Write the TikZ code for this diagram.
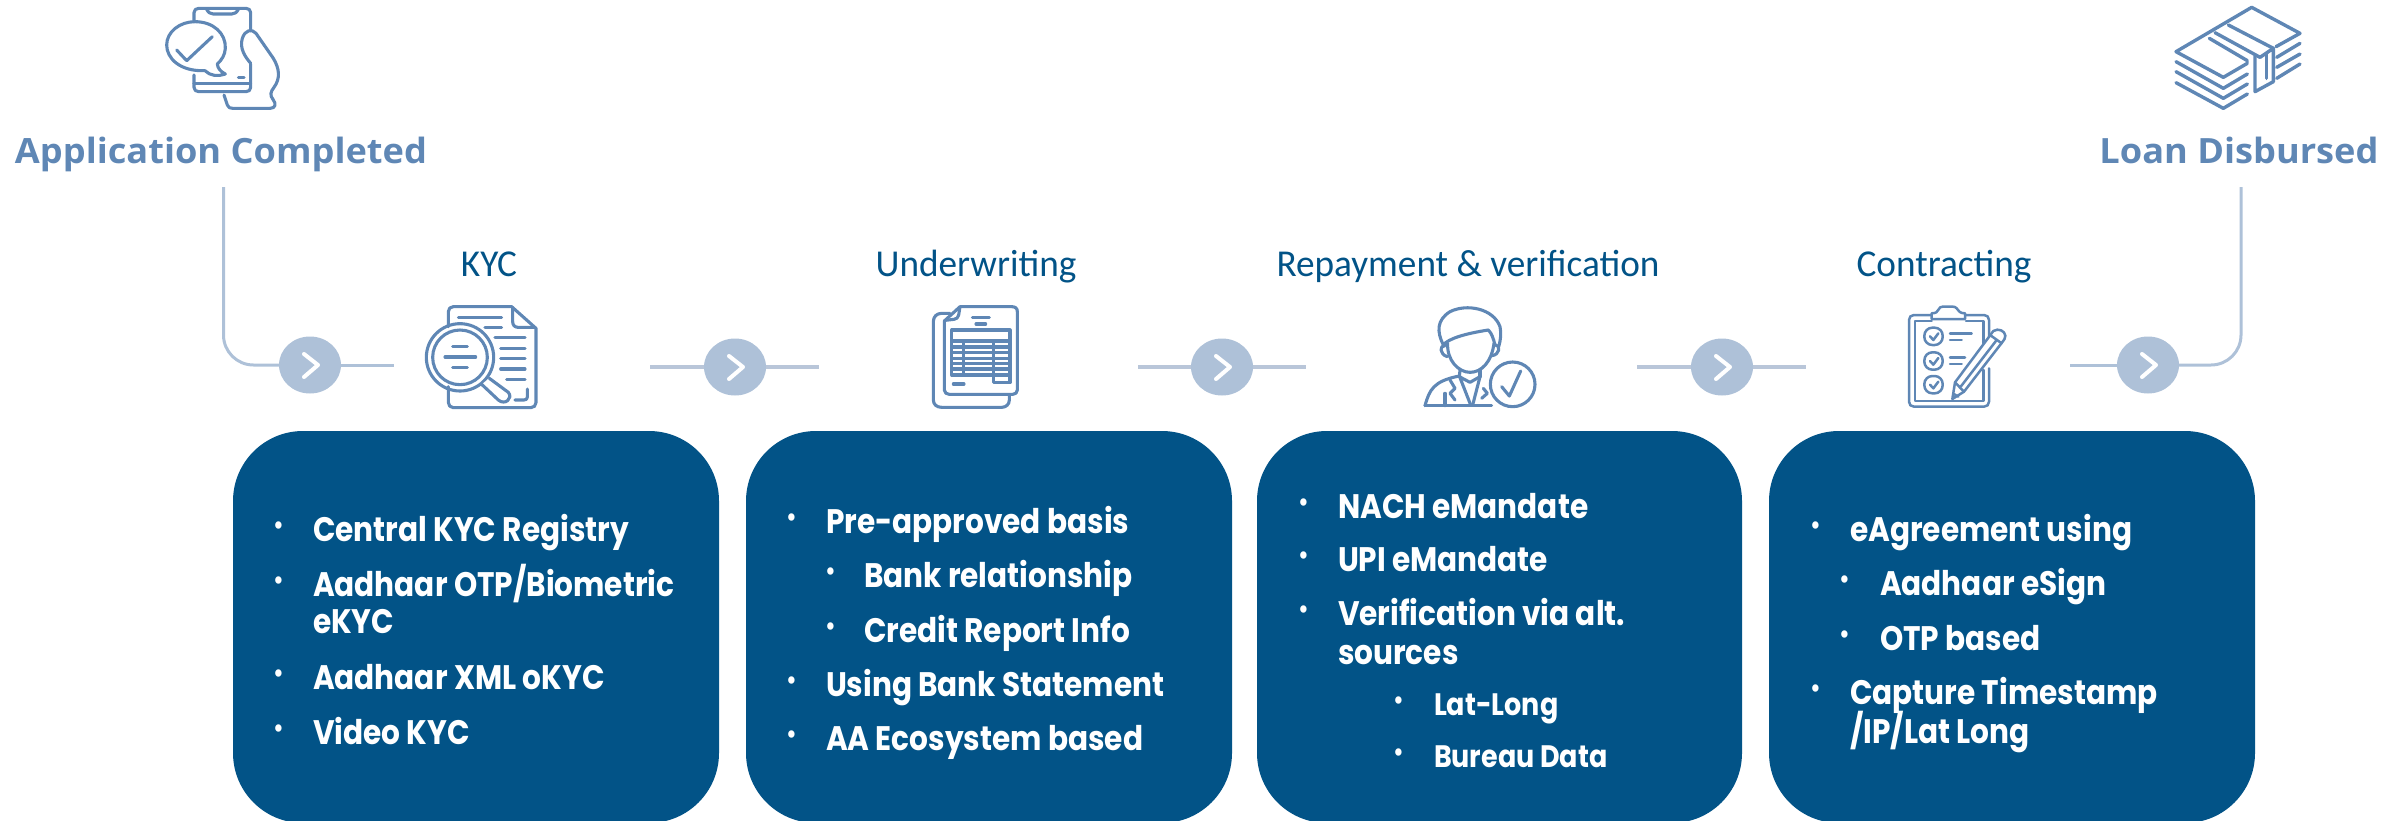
\documentclass[tikz,border=0pt]{standalone}
\usepackage{fontspec}
\usetikzlibrary{shapes.geometric}
\setmainfont{Carlito}
\newfontfamily\bodyfont[FakeStretch=0.87]{Poppins}
\newfontfamily\headfont[FakeStretch=1.04]{Open Sans}
\newfontfamily\labelfont[FakeStretch=0.98]{Carlito}
\definecolor{boxblue}{HTML}{025387}
\definecolor{iconblue}{HTML}{5F87B5}
\definecolor{linkblue}{HTML}{AEC1D8}
\definecolor{linkgrey}{HTML}{B9C6D9}
\tikzset{
  bx/.style={fill=boxblue,rounded corners=35pt,anchor=north west,inner sep=0pt,outer sep=0pt,minimum height=196pt},
  bt/.style={anchor=base west,inner sep=0pt,outer sep=0pt,text=white,font=\bodyfont\bfseries\fontsize{17}{18}\selectfont},
  st/.style={bt,font=\bodyfont\bfseries\fontsize{15.5}{18}\selectfont},
  bl/.style={anchor=center,inner sep=0pt,outer sep=0pt,text=white,font=\bodyfont\fontsize{15}{16}\selectfont},
  lab/.style={anchor=base,inner sep=0pt,text=boxblue,font=\labelfont\fontsize{19}{22}\selectfont},
  hd/.style={anchor=base,inner sep=0pt,text=iconblue,font=\headfont\bfseries\fontsize{17.4}{20}\selectfont},
  dot/.style={ellipse,fill=linkblue,inner sep=0pt,outer sep=0pt,minimum width=31pt,minimum height=28.5pt},
  thin link/.style={draw=linkblue,line width=1.5pt},
  thick link/.style={draw=linkgrey,line width=2.2pt},
  chev/.style={draw=white,line width=2pt,line cap=round,line join=round},
  ic/.style={draw=iconblue,line width=1.55pt,line cap=round,line join=round},
  icn/.style={x=0.16667pt,y=-0.16667pt},
}
\newcommand{\chevron}[1]{\draw[chev] ([shift={(-6,-11)}]#1.center) -- ([shift={(8,0)}]#1.center) -- ([shift={(-6,12)}]#1.center);}
\begin{document}
\begin{tikzpicture}[x=0.5pt,y=-0.5pt]
\useasboundingbox (0,0) rectangle (2405,820);
% boxes
\node[bx,minimum width=243pt] (b1) at (233,431) {};
\node[bx,minimum width=243pt] (b2) at (746,431) {};
\node[bx,minimum width=242.5pt] (b3) at (1257,431) {};
\node[bx,minimum width=243pt] (b4) at (1769,431) {};
% box 1
\node[bt] (k1) at (313,541) {Central KYC Registry};
\node[bl] (k1b) at (279,529) {•};
\node[bt] (k2) at (313,596) {Aadhaar OTP/Biometric};
\node[bl] (k2b) at (279,584) {•};
\node[bt] (k2c) at (313,633) {eKYC};
\node[bt] (k3) at (313,689) {Aadhaar XML oKYC};
\node[bl] (k3b) at (279,677) {•};
\node[bt] (k4) at (313,744) {Video KYC};
\node[bl] (k4b) at (279,732) {•};
% box 2
\node[bt] (u1) at (826,533) {Pre-approved basis};
\node[bl] (u1b) at (792,521) {•};
\node[bt] (u2) at (864,587) {Bank relationship};
\node[bl] (u2b) at (831,575) {•};
\node[bt] (u3) at (864,642) {Credit Report Info};
\node[bl] (u3b) at (831,630) {•};
\node[bt] (u4) at (826,696) {Using Bank Statement};
\node[bl] (u4b) at (792,684) {•};
\node[bt] (u5) at (826,750) {AA Ecosystem based};
\node[bl] (u5b) at (792,738) {•};
% box 3
\node[bt] (r1) at (1338,518) {NACH eMandate};
\node[bl] (r1b) at (1304,506) {•};
\node[bt] (r2) at (1338,571) {UPI eMandate};
\node[bl] (r2b) at (1304,559) {•};
\node[bt] (r3) at (1338,625) {Verification via alt.};
\node[bl] (r3b) at (1304,613) {•};
\node[bt] (r3c) at (1338,664) {sources};
\node[st] (r4) at (1434,715) {Lat-Long};
\node[bl] (r4b) at (1399,704) {•};
\node[st] (r5) at (1434,767) {Bureau Data};
\node[bl] (r5b) at (1399,756) {•};
% box 4
\node[bt] (c1t) at (1850,541) {eAgreement using};
\node[bl] (c1b) at (1816,529) {•};
\node[bt] (c2t) at (1880,595) {Aadhaar eSign};
\node[bl] (c2b) at (1845,583) {•};
\node[bt] (c3t) at (1880,650) {OTP based};
\node[bl] (c3b) at (1845,638) {•};
\node[bt] (c4t) at (1850,704) {Capture Timestamp};
\node[bl] (c4b) at (1816,692) {•};
\node[bt] (c4c) at (1850,743) {/IP/Lat Long};
% labels
\node[lab] (l1) at (489,276) {KYC};
\node[lab] (l2) at (976,276) {Underwriting};
\node[lab] (l3) at (1468,276) {Repayment \& verification};
\node[lab] (l4) at (1944,276) {Contracting};
\node[hd] (appl) at (221,163) {Application Completed};
\node[hd] (loan) at (2239,163) {Loan Disbursed};
% connectors
\coordinate (a0) at (223.5,187);
\coordinate (z0) at (2241,187);
\coordinate (e1) at (394,365);
\coordinate (s2) at (650,367);
\coordinate (e2) at (819,367);
\coordinate (s3) at (1138,367);
\coordinate (e3) at (1306,367);
\coordinate (s4) at (1637,367);
\coordinate (e4) at (1806,367);
\coordinate (s5) at (2070,365);
\node[dot] (c1) at (310,365) {};
\node[dot] (c2) at (735,367) {};
\node[dot] (c3) at (1222,367) {};
\node[dot] (c4) at (1722,367) {};
\node[dot] (c5) at (2148,365) {};
\draw[thin link,rounded corners=15pt] (a0) |- (c1);
\draw[thin link] (c1) -- (e1);
\draw[thick link] (s2) -- (c2);
\draw[thick link] (c2) -- (e2);
\draw[thick link] (s3) -- (c3);
\draw[thick link] (c3) -- (e3);
\draw[thick link] (s4) -- (c4);
\draw[thick link] (c4) -- (e4);
\draw[thin link] (s5) -- (c5);
\draw[thin link,rounded corners=15pt] (z0) |- (c5);
\chevron{c1}\chevron{c2}\chevron{c3}\chevron{c4}\chevron{c5}
% phone icon
\begin{scope}[shift={(150,0)},icn,ic]
\draw (132,65) -- (132,38) .. controls (132,30) and (138,25) .. (146,25) -- (288,25) .. controls (296,25) and (302,30) .. (302,38) -- (302,92);
\draw (170,28) .. controls (175,38) and (182,42) .. (190,42) -- (245,42) .. controls (253,42) and (260,38) .. (265,28);
\draw (132,225) -- (132,262) .. controls (132,270) and (138,275) .. (146,275) -- (288,275) .. controls (296,275) and (302,270) .. (302,262) -- (302,192);
\draw (132,250) -- (302,250);
\draw (265,232) -- (282,232);
\draw (165,212) .. controls (90,215) and (50,175) .. (50,135) .. controls (50,95) and (90,65) .. (135,65) .. controls (190,65) and (228,100) .. (226,145) .. controls (225,165) and (215,180) .. (202,192) .. controls (203,205) and (212,215) .. (226,222) .. controls (205,230) and (180,228) .. (165,212);
\draw (80,150) -- (110,182) -- (187,110);
\draw (222,285) -- (232,315) .. controls (235,323) and (240,325) .. (248,325) -- (360,325) .. controls (378,325) and (378,310) .. (370,300) .. controls (358,285) and (362,275) .. (372,262) .. controls (392,235) and (388,205) .. (370,175) -- (318,100) .. controls (305,85) and (285,90) .. (277,115) .. controls (268,145) and (285,170) .. (302,190);
\end{scope}
% KYC icon
\begin{scope}[shift={(410,295)},icn,ic]
\draw (115,95) -- (115,50) .. controls (115,41) and (121,35) .. (130,35) -- (305,35) -- (378,100) -- (378,323) .. controls (378,332) and (371,338) .. (362,338) -- (130,338) .. controls (121,338) and (115,331) .. (115,322) -- (115,275);
\draw (308,38) -- (308,80) .. controls (308,90) and (314,97) .. (324,97) -- (375,97);
\draw (145,68) -- (275,68);
\draw (225,98) -- (275,98);
\draw (255,128) -- (345,128);
\draw (272,160) -- (345,160);
\draw (272,191) -- (345,191);
\draw (272,222) -- (345,222);
\draw (290,253) -- (345,253);
\draw (315,315) -- (342,315) .. controls (348,315) and (352,312) .. (352,306) -- (352,282);
\draw (150,187) circle [radius=101];
\draw (150,187) circle [radius=82];
\draw[fill=white] (238,250) -- (295,292) .. controls (310,310) and (285,332) .. (265,315) -- (215,268);
\draw (128,155) -- (172,155);
\draw (105,186) -- (197,186);
\draw (128,218) -- (172,218);
\end{scope}
% underwriting icon
\begin{scope}[shift={(910,295)},icn,ic]
\draw (120,55) -- (95,55) .. controls (80,55) and (70,65) .. (70,80) -- (70,315) .. controls (70,328) and (80,337) .. (95,337) -- (275,337) .. controls (288,337) and (298,328) .. (298,315) -- (298,300);
\draw (150,35) -- (305,35) .. controls (316,35) and (322,40) .. (322,50) -- (322,285) .. controls (322,293) and (316,298) .. (308,298) -- (118,298) .. controls (110,298) and (103,293) .. (103,285) -- (103,78) -- (150,35);
\draw (150,35) -- (146,60) .. controls (144,68) and (140,72) .. (132,73) -- (105,76);
\draw (187,68) -- (238,68);
\draw (198,87) -- (227,87);
\draw (130,267) -- (162,267);
\draw (125,105) -- (300,105) -- (300,263) -- (250,263) -- (250,240) -- (125,240) -- cycle;
\draw (125,138) -- (300,138);
\foreach \ry in {156,172,190,206,222} {\draw (125,\ry) -- (300,\ry);}
\draw (250,240) -- (300,240);
\draw (160,138) -- (160,240);
\draw (250,138) -- (250,240);
\end{scope}
% person icon
\begin{scope}[shift={(1400,295)},icn,ic]
\draw (130,150) .. controls (110,110) and (110,75) .. (150,50) .. controls (200,25) and (280,40) .. (300,95) .. controls (304,115) and (302,135) .. (296,155);
\draw (130,150) .. controls (145,130) and (200,115) .. (265,105) .. controls (275,115) and (280,130) .. (285,150);
\draw (143,145) .. controls (140,195) and (175,232) .. (210,232) .. controls (245,232) and (275,200) .. (282,145);
\draw (135,152) .. controls (118,150) and (118,178) .. (142,185);
\draw (287,150) .. controls (302,150) and (300,180) .. (275,182);
\draw (180,225) -- (178,245);
\draw (240,225) -- (240,245);
\draw (75,332) .. controls (88,285) and (100,258) .. (178,243);
\draw (75,332) -- (275,332);
\draw (178,243) -- (212,330);
\draw (240,245) -- (218,330);
\draw (178,245) -- (210,262) -- (240,245);
\draw (150,255) -- (165,280) -- (150,295) -- (165,315);
\draw (135,295) -- (135,332);
\draw (250,280) -- (262,295) -- (245,310);
\draw[fill=white] (338,268) circle [radius=67];
\draw (305,275) -- (328,303) -- (362,228);
\end{scope}
% contracting icon
\begin{scope}[shift={(1890,295)},icn,ic,line width=1.25pt]
\draw (122,60) -- (72,60) .. controls (63,60) and (57,66) .. (57,75) -- (57,320) .. controls (57,329) and (63,335) .. (72,335) -- (282,335) .. controls (291,335) and (297,329) .. (297,320) -- (297,220);
\draw (225,60) -- (282,60) .. controls (291,60) and (297,66) .. (297,75) -- (297,125);
\draw (125,78) -- (75,78) -- (75,318) -- (280,318) -- (280,225);
\draw (228,78) -- (280,78) -- (280,145);
\draw (125,72) -- (225,72) -- (225,55) .. controls (210,55) and (205,48) .. (200,40) .. controls (197,36) and (192,35) .. (188,35) -- (158,35) .. controls (152,35) and (148,38) .. (146,43) .. controls (143,50) and (138,55) .. (125,55) -- cycle;
\foreach \ty in {98,172,243} {
  \draw[rounded corners=4pt] (103,\ty) rectangle (158,\ty+52);
  \draw (120,\ty+26) -- (130,\ty+37) -- (145,\ty+17);
}
\draw (180,115) -- (245,115);
\draw (180,135) -- (215,135);
\draw (180,187) -- (225,187);
\draw (180,207) -- (215,207);
\draw[fill=white] (187,312) -- (195,262) -- (310,108) .. controls (325,98) and (345,108) .. (346,122) .. controls (346,130) and (342,135) .. (338,140) -- (222,290) -- cycle;
\draw (212,275) -- (320,135);
\draw (300,120) -- (335,145);
\draw (195,262) -- (222,290);
\draw (190,296) -- (205,305);
\end{scope}
% money icon
\begin{scope}[shift={(2160,0)},icn,ic,line width=1.7pt]
\draw (262,190) -- (190,232) -- (48,155) -- (275,22) -- (420,100) -- (348,140);
\draw (148,115) -- (262,182);
\draw (165,98) -- (300,172);
\draw (205,75) -- (340,145);
\draw (285,168) -- (285,275) -- (340,245) -- (340,145) -- (300,172);
\draw (320,158) -- (320,235);
\draw (48,185) -- (190,265) -- (262,222);
\draw (48,215) -- (190,295) -- (262,252);
\draw (48,248) -- (190,325) -- (262,282);
\draw (350,172) -- (420,130);
\draw (350,202) -- (420,162);
\draw (350,235) -- (420,192);
\end{scope}
\end{tikzpicture}
\end{document}
